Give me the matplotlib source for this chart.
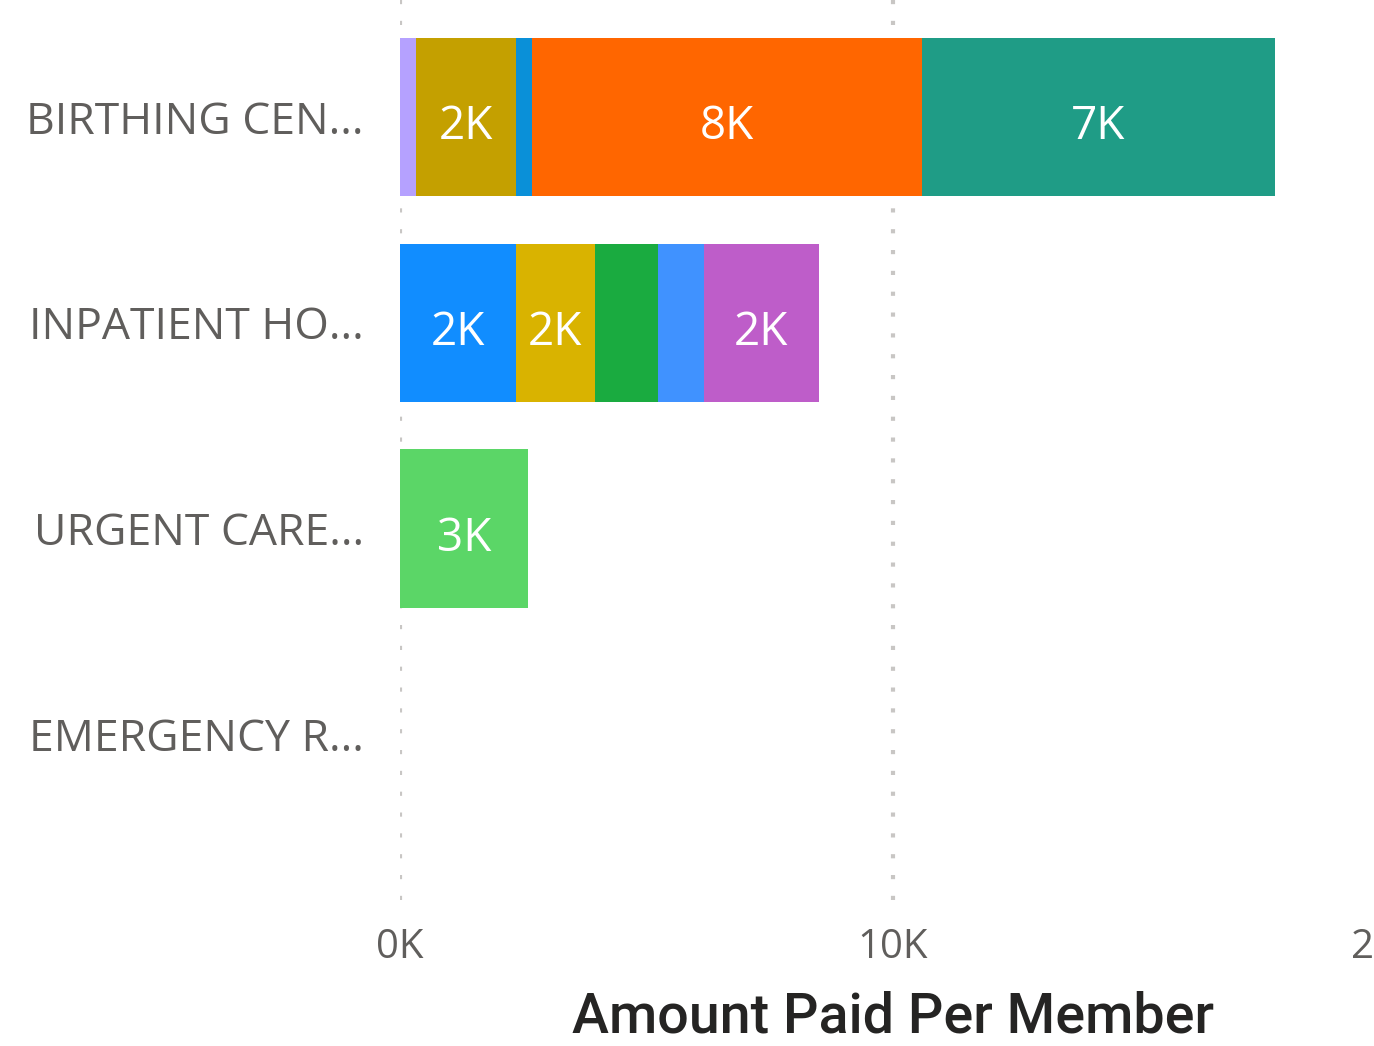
import numpy as np
import matplotlib.pyplot as plt

# categories (top to bottom)
categories = ["BIRTHING CEN...", "INPATIENT HO...", "URGENT CARE...", "EMERGENCY R..."]

# stacked segment values per category, in thousands
birthing_vals = [0.32, 2.03, 0.32, 7.91, 7.16]
inpatient_vals = [2.35, 1.60, 1.28, 0.93, 2.33]
urgent_vals = [2.60]
emergency_vals = []

birthing_colors = ["#B5A1FF", "#C4A000", "#0A90D8", "#FF6600", "#1F9C86"]
inpatient_colors = ["#118DFF", "#D9B300", "#1AAB40", "#4092FF", "#BE5DC9"]
urgent_colors = ["#5BD667"]
emergency_colors = []

all_vals = [birthing_vals, inpatient_vals, urgent_vals, emergency_vals]
all_colors = [birthing_colors, inpatient_colors, urgent_colors, emergency_colors]

W, H = 1374, 1046
fig = plt.figure(figsize=(W / 100, H / 100), dpi=100)
# axes runs past the right edge so the 20K label is cut like the original
ax = fig.add_axes([400 / W, 1 - 900 / H, (1386 - 400) / W, 900 / H])

label_font = ["Open Sans", "DejaVu Sans"]
bar_h = 0.77
for i, (vals, cols) in enumerate(zip(all_vals, all_colors)):
    left = 0.0
    for v, c in zip(vals, cols):
        ax.barh(i, v * 1000, left=left * 1000, height=bar_h, color=c)
        if v >= 1.5:
            ax.text((left + v / 2) * 1000, i + 0.05, f"{v:.0f}K", ha="center", va="center",
                    color="white", fontsize=33, family=label_font)
        left += v

ax.set_xlim(0, 20000)
ax.set_ylim(3.807, -0.569)
ax.set_yticks(range(len(categories)))
ax.set_yticklabels(categories, fontsize=32, color="#605E5C", family=label_font)
ax.set_xticks([0, 10000, 20000])
ax.set_xticklabels(["0K", "10K", "20K"], fontsize=29, color="#605E5C", family=label_font)
ax.tick_params(axis="both", length=0)
ax.tick_params(axis="y", pad=26)
ax.tick_params(axis="x", pad=20)

ax.grid(axis="x", linestyle=(0, (1, 4)), color="#C8C6C4", linewidth=3)
ax.set_axisbelow(True)
for s in ax.spines.values():
    s.set_visible(False)

fig.text(893 / W, 1 - 1017 / H, "Amount Paid Per Member", ha="center", va="center",
         fontsize=40, color="#252423", family=["Roboto", "DejaVu Sans"], fontweight="medium")

fig.savefig("out.png", dpi=100)
